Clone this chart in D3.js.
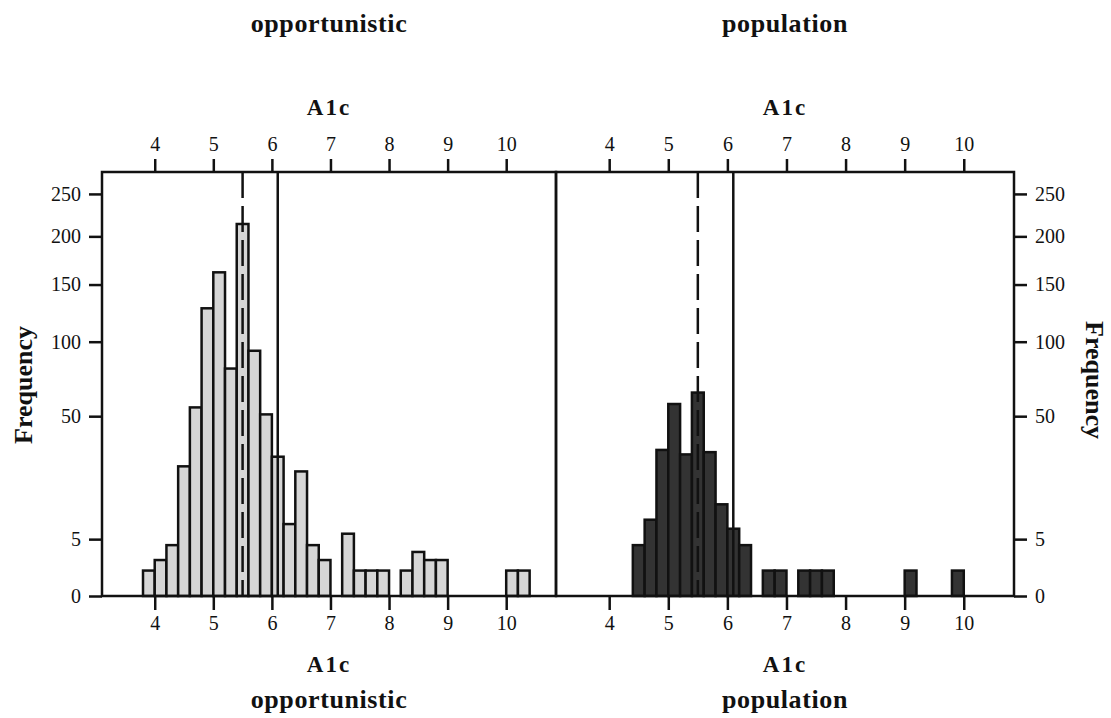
<!DOCTYPE html>
<html>
<head>
<meta charset="utf-8">
<script src="https://cdn.jsdelivr.net/npm/d3@7"></script>
<style>
	body { margin: 0; background: #fff; }
	svg { display: block; font-family: "Liberation Serif", "DejaVu Serif", serif; }
	.tick text { font-size: 20px; fill: #111; }
	.tick line { stroke: #111; stroke-width: 2.5; }
	.ttl { font-weight: bold; fill: #111; text-anchor: middle; }
</style>
</head>
<body>
<svg width="1111" height="718"></svg>
<script>
(function() {
	"use strict"

	// lower edge of each 0.2-wide A1c bin
	var binStarts = [3.8, 4.0, 4.2, 4.4, 4.6, 4.8, 5.0, 5.2, 5.4, 5.6, 5.8, 6.0, 6.2, 6.4, 6.6, 6.8, 7.0,
			7.2, 7.4, 7.6, 7.8, 8.0, 8.2, 8.4, 8.6, 8.8, 9.0, 9.2, 9.4, 9.6, 9.8, 10.0, 10.2],
		binWidth = 0.2,
		opportunisticCounts = [1, 2, 4, 26, 55, 128, 162, 80, 214, 93, 51, 30, 8, 24, 4, 2, 0,
			6, 1, 1, 1, 0, 1, 3, 2, 2, 0, 0, 0, 0, 0, 1, 1],
		populationCounts = [0, 0, 0, 4, 9, 33, 57, 31, 64, 32, 13, 7, 4, 0, 1, 1, 0,
			1, 1, 1, 0, 0, 0, 0, 0, 0, 1, 0, 0, 0, 1, 0, 0],
		xTicks = [4, 5, 6, 7, 8, 9, 10],
		yTicks = [0, 5, 50, 100, 150, 200, 250],
		dashedAt = 5.5,
		solidAt = 6.1,
		panelNames = ["opportunistic", "population"];

	var svg = d3.select("svg"),
		top = 172,
		bottom = 596,
		y = d3.scaleSqrt().domain([0, 278]).range([bottom, top]);

	function styleAxis(a) {
		a.attr("font-family", null).attr("font-size", null);
		a.select(".domain").remove();
	}

	function drawPanel(counts, x0, x1, name, fill, side) {
		var x = d3.scaleLinear().domain([3.1, 10.85]).range([x0, x1]),
			g = svg.append("g"),
			bins = binStarts.map(function(d, i) {
				return { x: d, n: counts[i] };
			}).filter(function(d) { return d.n > 0; });

		g.selectAll("rect.bar")
			.data(bins)
			.enter()
			.append("rect")
				.attr("class", "bar")
				.attr("x", function(d) { return x(d.x); })
				.attr("y", function(d) { return y(d.n); })
				.attr("width", function(d) { return x(d.x + binWidth) - x(d.x); })
				.attr("height", function(d) { return bottom - y(d.n); })
				.style("fill", fill)
				.style("stroke", "#111")
				.style("stroke-width", 2.5);

		g.append("line")
			.attr("x1", x(dashedAt)).attr("x2", x(dashedAt))
			.attr("y1", top).attr("y2", bottom)
			.style("stroke", "#111").style("stroke-width", 2.5)
			.style("stroke-dasharray", "26,8");

		g.append("line")
			.attr("x1", x(solidAt)).attr("x2", x(solidAt))
			.attr("y1", top).attr("y2", bottom)
			.style("stroke", "#111").style("stroke-width", 2.5);

		g.append("rect")
			.attr("x", x0).attr("y", top)
			.attr("width", x1 - x0).attr("height", bottom - top)
			.style("fill", "none").style("stroke", "#111").style("stroke-width", 2.5);

		g.append("g")
			.attr("transform", "translate(0," + top + ")")
			.call(d3.axisTop(x).tickValues(xTicks).tickSize(13).tickSizeOuter(0).tickPadding(8))
			.call(styleAxis);

		g.append("g")
			.attr("transform", "translate(0," + bottom + ")")
			.call(d3.axisBottom(x).tickValues(xTicks).tickSize(14).tickSizeOuter(0).tickPadding(6))
			.call(styleAxis);

		var yAxis = side === "left" ? d3.axisLeft(y) : d3.axisRight(y);
		g.append("g")
			.attr("transform", "translate(" + (side === "left" ? x0 : x1) + ",0)")
			.call(yAxis.tickValues(yTicks).tickSize(13).tickSizeOuter(0).tickPadding(8))
			.call(styleAxis);

		var cx = (x0 + x1) / 2;
		g.append("text").attr("class", "ttl").attr("x", cx).attr("y", 32)
			.style("font-size", "26px").style("letter-spacing", "0.6px").text(name);
		g.append("text").attr("class", "ttl").attr("x", cx).attr("y", 115)
			.style("font-size", "23px").style("letter-spacing", "2px").text("A1c");
		g.append("text").attr("class", "ttl").attr("x", cx).attr("y", 672)
			.style("font-size", "23px").style("letter-spacing", "2px").text("A1c");
		g.append("text").attr("class", "ttl").attr("x", cx).attr("y", 708)
			.style("font-size", "26px").style("letter-spacing", "0.6px").text(name);
	}

	drawPanel(opportunisticCounts, 102, 556, panelNames[0], "#d6d6d6", "left");
	drawPanel(populationCounts, 556, 1014, panelNames[1], "#333", "right");

	svg.append("text").attr("class", "ttl")
		.attr("transform", "translate(32,385) rotate(-90)")
		.style("font-size", "26px").text("Frequency");
	svg.append("text").attr("class", "ttl")
		.attr("transform", "translate(1086,380) rotate(90)")
		.style("font-size", "26px").text("Frequency");
})();
</script>
</body>
</html>
